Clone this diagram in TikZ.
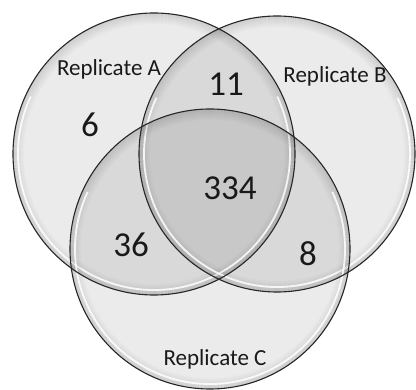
\documentclass[tikz,border=0pt]{standalone}
\usepackage{fontspec}
\setmainfont{Carlito}
\begin{document}
\begin{tikzpicture}[x=1pt,y=-1pt,
  disc/.style={fill=black,fill opacity=0.08},
  ring/.style={draw=black,line width=1.05pt},
  glint/.style={draw=white,line width=1.8pt,draw opacity=0.85},
  edge/.style={draw=black!85,line width=1.1pt},
  setlabel/.style={font=\fontsize{23}{23}\selectfont,text=black!90,inner sep=0pt},
  count/.style={font=\fontsize{35}{35}\selectfont,text=black!90,inner sep=0pt}]
\useasboundingbox (0,0) rectangle (416,390);
\clip (0,0) rectangle (416,390);
% circle centres
\coordinate (cA) at (154,154);
\coordinate (cB) at (277,154);
\coordinate (cC) at (210,249);
% translucent discs
\foreach \c/\r in {cA/141,cB/138,cC/140}
  \fill[disc] (\c) circle[radius=\r];
% darker rim fading inward, then a light glint just inside the edge
\foreach \c/\r in {cA/141,cB/138,cC/140}{
  \foreach \k in {1,...,11}{
    \pgfmathsetmacro\rr{\r-\k+0.5}
    \pgfmathsetmacro\op{0.11*(12-\k)/11}
    \draw[ring,draw opacity=\op] (\c) circle[radius=\rr];
  }
  \pgfmathsetmacro\rg{\r-5}
  \draw[glint] (\c) ++(-25:\rg) arc[start angle=-25,end angle=205,radius=\rg];
}
% outlines
\foreach \c/\r in {cA/141,cB/138,cC/140}
  \draw[edge] (\c) circle[radius=\r];
% labels
\node[setlabel] (labA) at (109,69) {Replicate A};
\node[setlabel] (labB) at (335,76) {Replicate B};
\node[setlabel] (labC) at (215,359) {Replicate C};
\node[count] (nA) at (90,125) {6};
\node[count] (nAB) at (226,84) {11};
\node[count] (nABC) at (230,188) {334};
\node[count] (nAC) at (131,245) {36};
\node[count] (nBC) at (308,254) {8};
\end{tikzpicture}
\end{document}
